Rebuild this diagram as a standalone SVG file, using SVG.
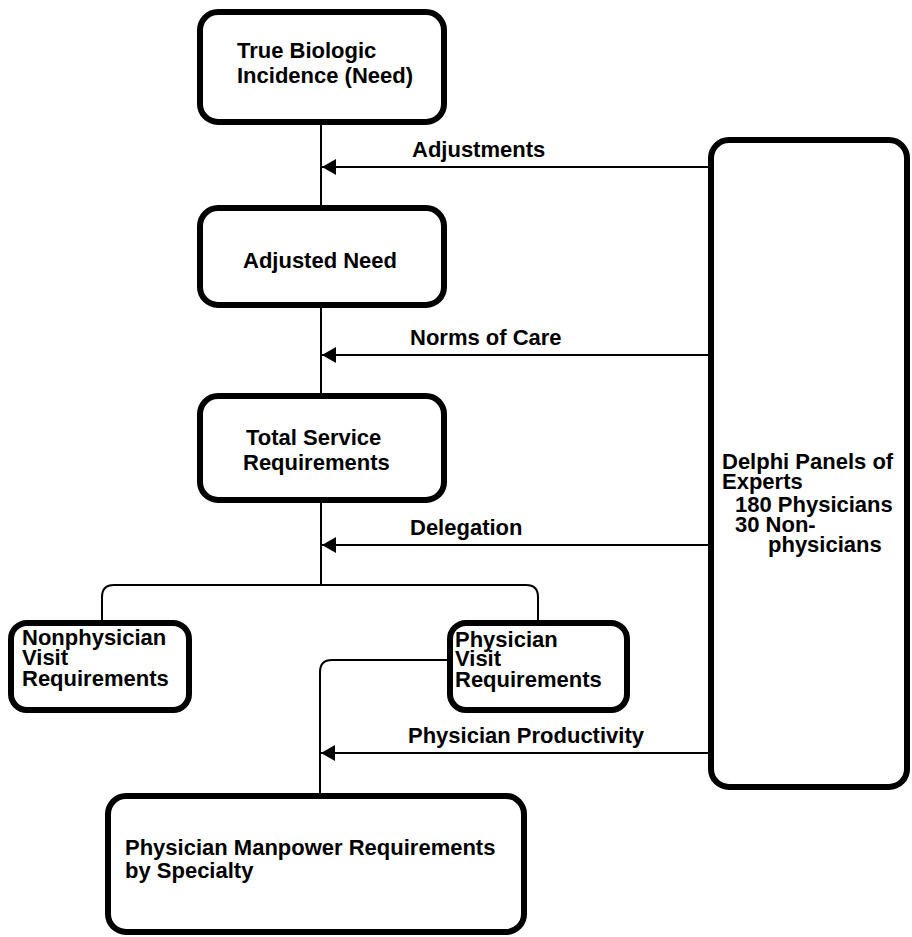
<svg xmlns="http://www.w3.org/2000/svg" width="912" height="937" viewBox="0 0 912 937">
<style>
.box{fill:#fff;stroke:#000;stroke-width:6}
.t{font-family:"Liberation Sans",Arial,Helvetica,sans-serif;font-weight:bold;font-size:22px;fill:#000}
.c{fill:none;stroke:#000;stroke-width:2}
</style>
<defs>
<marker id="ah" viewBox="0 0 14 16" refX="14" refY="8" markerWidth="14" markerHeight="16" markerUnits="userSpaceOnUse" orient="auto">
<path d="M14,8 L0,0 L0,16 Z" fill="#000"/>
</marker>
</defs>
<rect width="912" height="937" fill="#fff"/>
<g id="connectors">
<path class="c" d="M321,122 V208"/>
<path class="c" d="M321,305 V396"/>
<path class="c" d="M321,500 V585"/>
<path class="c" d="M102,623 V597 Q102,585 114,585 H526 Q538,585 538,597 V623"/>
<path class="c" d="M450,660 H332 Q320,660 320,672 V796"/>
<path class="c" d="M708,167 H322" marker-end="url(#ah)"/>
<path class="c" d="M708,355 H322" marker-end="url(#ah)"/>
<path class="c" d="M708,545 H322" marker-end="url(#ah)"/>
<path class="c" d="M708,753 H321" marker-end="url(#ah)"/>
</g>
<g id="lbl-adjustments"><text class="t" x="412" y="157">Adjustments</text></g>
<g id="lbl-norms"><text class="t" x="410" y="345">Norms of Care</text></g>
<g id="lbl-delegation"><text class="t" x="410" y="535">Delegation</text></g>
<g id="lbl-productivity"><text class="t" x="408" y="743">Physician Productivity</text></g>
<g id="n-true">
<rect class="box" x="200" y="12" width="244" height="110" rx="18"/>
<text class="t" x="237" y="58">True Biologic</text>
<text class="t" x="237" y="83">Incidence (Need)</text>
</g>
<g id="n-adjusted">
<rect class="box" x="200" y="208" width="244" height="97" rx="18"/>
<text class="t" x="243" y="268">Adjusted Need</text>
</g>
<g id="n-total">
<rect class="box" x="200" y="396" width="244" height="104" rx="18"/>
<text class="t" x="246" y="445">Total Service</text>
<text class="t" x="243" y="470">Requirements</text>
</g>
<g id="n-nonphys">
<rect class="box" x="11" y="623" width="178" height="87" rx="16"/>
<text class="t" x="22" y="645">Nonphysician</text>
<text class="t" x="22" y="665">Visit</text>
<text class="t" x="22" y="686">Requirements</text>
</g>
<g id="n-phys">
<rect class="box" x="450" y="623" width="177" height="87" rx="16"/>
<text class="t" x="455" y="647">Physician</text>
<text class="t" x="455" y="666">Visit</text>
<text class="t" x="455" y="687">Requirements</text>
</g>
<g id="n-manpower">
<rect class="box" x="108" y="796" width="416" height="136" rx="18"/>
<text class="t" x="125" y="855">Physician Manpower Requirements</text>
<text class="t" x="125" y="878">by Specialty</text>
</g>
<g id="n-delphi">
<rect class="box" x="711" y="140" width="196" height="647" rx="18"/>
<text class="t" x="722" y="469">Delphi Panels of</text>
<text class="t" x="722" y="489">Experts</text>
<text class="t" x="735" y="512">180 Physicians</text>
<text class="t" x="735" y="532">30 Non-</text>
<text class="t" x="768" y="552">physicians</text>
</g>
</svg>
